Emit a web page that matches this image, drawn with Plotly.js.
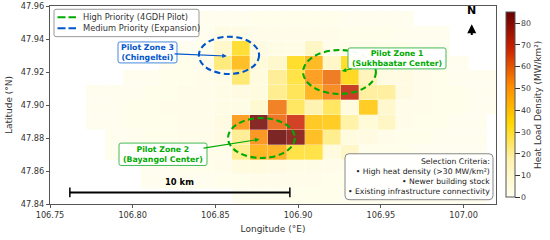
<!DOCTYPE html>
<html><head><meta charset="utf-8">
<script src="https://cdn.plot.ly/plotly-3.0.1.min.js"></script>
<style>html,body{margin:0;padding:0;background:#fff}</style></head>
<body><div id="chart" style="width:550px;height:240px"></div>
<script>
const lons=[106.7555,106.7665,106.7775,106.7885,106.7995,106.8105,106.8215,106.8325,106.8435,106.8545,106.8655,106.8765,106.8875,106.8985,106.9095,106.9205,106.9315,106.9425,106.9535,106.9645,106.9755,106.9865,106.9975,107.0085,107.0195];
const lats=[47.8445,47.8535,47.8625,47.8715,47.8805,47.8895,47.8985,47.9075,47.9165,47.9255,47.9345,47.9435,47.9525];
const _=null;
const row0=[_,_,_,_,_,_,_,_,_,_,1,1,1,2,2,2,1,1,1,1,1,1,1,1,_];
const row1=[_,_,_,_,_,1,1,1,1,2,2,3,3,3,3,2,2,2,1,1,1,1,1,1,_];
const row2=[_,_,_,_,_,1,1,2,2,3,6,6,5,4,4,3,3,2,2,1,1,1,1,1,_];
const row3=[_,_,_,1,1,1,2,2,3,3,22,44,45,30,30,6,13,2,2,2,1,1,1,1,_];
const row4=[_,_,_,1,1,2,2,3,3,5,21,52,85,81,42,22,6,5,3,2,2,1,1,1,_];
const row5=[_,_,1,1,2,2,2,3,3,5,50,83,58,68,39,38,19,8,14,3,2,2,1,1,_];
const row6=[_,_,1,1,2,2,3,3,3,4,4,10,56,27,18,27,6,38,11,3,3,2,2,1,1];
const row7=[_,_,1,1,1,2,2,3,3,4,5,6,22,28,44,54,70,20,20,5,3,2,2,1,1];
const row8=[_,_,_,_,1,1,2,2,3,4,25,6,21,30,50,57,35,17,5,5,3,2,1,1,1];
const row9=[_,_,_,_,_,_,1,2,3,24,42,8,12,33,43,13,33,3,4,3,2,1,1,_,_];
const row10=[_,_,_,_,_,_,1,1,2,12,32,5,4,4,14,3,3,3,2,2,1,1,_,_,_];
const row11=[_,_,_,_,_,_,_,_,1,4,4,3,3,3,3,3,2,2,2,1,1,1,_,_,_];
const row12=[_,_,_,_,_,_,_,_,1,1,1,2,2,2,2,2,1,1,1,1,_,_,_,_,_];
const heat=[row0,row1,row2,row3,row4,row5,row6,row7,row8,row9,row10,row11,row12];
const ticksLon=[106.75,106.80,106.85,106.90,106.95,107.00];
const ticksLonText=['106.75','106.80','106.85','106.90','106.95','107.00'];
const ticksLat=[47.84,47.86,47.88,47.90,47.92,47.94,47.96];
const ticksLatText=['47.84','47.86','47.88','47.90','47.92','47.94','47.96'];
const scaleLon=[106.762,106.895];
const scaleLat=[47.847,47.847];
const GREEN='#00AA00',BLUE='#0055CC',FONT='"DejaVu Sans",sans-serif',INK='#333';
const L=50,T=6,W=446,H=198.3;
const px=x=>(x-L)/W, py=y=>1-(y-T)/H;

const traces=[
 {type:'heatmap',x:lons,y:lats,z:heat,zmin:0,zmax:85,opacity:0.85,xgap:0.3,ygap:0.3,hoverongaps:false,
  colorscale:[[0,'#FFFFF0'],[0.2,'#FFF3B0'],[0.4,'#FFD700'],[0.6,'#FF8C00'],[0.8,'#CC2200'],[1,'#660000']],
  showlegend:false,
  colorbar:{thicknessmode:'pixels',thickness:8.6,lenmode:'pixels',len:184.6,x:1.0217,xanchor:'left',y:0.5008,yanchor:'middle',xpad:0,ypad:0,
    outlinecolor:'#555',outlinewidth:1,ticks:'outside',ticklen:4.5,tickcolor:'#333',tickwidth:1,tick0:0,dtick:10,
    tickfont:{family:FONT,size:7.8,color:INK},
    title:{text:'Heat Load Density (MW/km²)',side:'right',font:{family:FONT,size:8.9,color:INK}}}},
 {type:'scatter',mode:'lines+markers',x:scaleLon,y:scaleLat,showlegend:false,hoverinfo:'skip',
  line:{color:'#000',width:2},marker:{symbol:'line-ns',size:7,line:{color:'#000',width:1.5}}}
];
function ell(x0,x1,y0,y1,c){return {type:'circle',xref:'x',yref:'y',x0,x1,y0,y1,layer:'above',line:{color:c,width:2.1,dash:'6px,3.5px'}};}
function box(x0,y0,x1,y1,r,stroke,fill){
  const a=px(x0),b=px(x1),c=py(y0),d=py(y1),rx=r/W,ry=r/H;
  const path=`M ${a+rx} ${c} L ${b-rx} ${c} Q ${b} ${c} ${b} ${c-ry} L ${b} ${d+ry} Q ${b} ${d} ${b-rx} ${d} L ${a+rx} ${d} Q ${a} ${d} ${a} ${d+ry} L ${a} ${c-ry} Q ${a} ${c} ${a+rx} ${c} Z`;
  return {type:'path',xref:'paper',yref:'paper',path,layer:'above',fillcolor:fill,line:{color:stroke,width:1}};
}
function sample(x0,x1,y,c){return {type:'line',xref:'paper',yref:'paper',x0:px(x0),x1:px(x1),y0:py(y),y1:py(y),layer:'above',line:{color:c,width:2,dash:'8px,3px'}};}
function zone(text,x,y,tx,ty,c){return {text,x:tx,y:ty,xref:'x',yref:'y',axref:'x',ayref:'y',ax:x,ay:y,showarrow:true,arrowhead:2,arrowsize:0.8,arrowwidth:1.1,arrowcolor:c,
  font:{family:FONT,size:7.8,color:c,weight:700},borderpad:0,align:'center'};}
const layout={width:550,height:240,margin:{l:50,r:54,t:6,b:35.7},paper_bgcolor:'#fff',plot_bgcolor:'#fff',font:{family:FONT},showlegend:false,
 xaxis:{range:[106.75,107.0196],tickvals:ticksLon,ticktext:ticksLonText,ticks:'outside',ticklen:3,tickcolor:'#555',showgrid:false,zeroline:false,showline:true,linecolor:'#555',linewidth:1.2,mirror:true,
   tickfont:{family:FONT,size:8.2,color:INK},title:{text:'Longitude (°E)',font:{family:FONT,size:9,color:INK},standoff:6}},
 yaxis:{range:[47.84,47.96],tickvals:ticksLat,ticktext:ticksLatText,ticks:'outside',ticklen:3,tickcolor:'#555',showgrid:false,zeroline:false,showline:true,linecolor:'#555',linewidth:1.2,mirror:true,
   tickfont:{family:FONT,size:8.2,color:INK},title:{text:'Latitude (°N)',font:{family:FONT,size:9,color:INK},standoff:6}},
 shapes:[
  ell(106.903,106.947,47.9067,47.9333,GREEN),ell(106.8576,106.898,47.8679,47.8921,GREEN),ell(106.84,106.8764,47.9188,47.9414,BLUE),
  box(348,48,446,69,2,'#44BB55','rgba(255,255,255,0.95)'),
  box(119,143.3,207,165.7,2,'#44BB55','rgba(255,255,255,0.95)'),
  box(118,42,177,63,2,'#4488DD','rgba(255,255,255,0.95)'),
  box(54,9.3,199,36.7,2,'#999','rgba(255,255,255,0.92)'),
  sample(57.5,76,17.3,GREEN),sample(57.5,76,28.3,BLUE),
  box(345,154,493,200,4,'#888','rgba(255,255,255,0.92)')
 ],
 annotations:[
  zone('Pilot Zone 1<br>(Sukhbaatar Center)',106.9598,47.928,106.9264,47.9206,GREEN),
  zone('Pilot Zone 2<br>(Bayangol Center)',106.8183,47.87,106.8766,47.8792,GREEN),
  zone('Pilot Zone 3<br>(Chingeltei)',106.809,47.9317,106.8568,47.9297,BLUE),
  {text:'High Priority (4GDH Pilot)<br>Medium Priority (Expansion)',x:px(82),y:py(23),xref:'paper',yref:'paper',xanchor:'left',yanchor:'middle',showarrow:false,align:'left',borderpad:0,font:{family:FONT,size:8.3,color:INK}},
  {text:'10 km',x:106.8285,y:47.8535,xref:'x',yref:'y',showarrow:false,font:{family:FONT,size:8.4,color:'#000',weight:700}},
  {text:'N',x:107.0,y:47.957,xref:'x',yref:'y',showarrow:false,font:{family:FONT,size:11,color:'#000',weight:700}},
  {text:'',x:107.0,y:47.949,xref:'x',yref:'y',axref:'x',ayref:'y',ax:107.0,ay:47.9415,showarrow:true,arrowhead:2,arrowsize:0.9,arrowwidth:2,arrowcolor:'#000'},
  {text:'Selection Criteria:<br>• High heat density (>30 MW/km²)<br>• Newer building stock<br>• Existing infrastructure connectivity',x:px(491),y:py(177),xref:'paper',yref:'paper',xanchor:'right',yanchor:'middle',showarrow:false,align:'right',borderpad:0,
   font:{family:FONT,size:7.7,color:'#222'}}
 ]
};
layout.annotations[5].x=106.75+(471.7-50)/1654;
layout.annotations[6].x=layout.annotations[5].x;layout.annotations[6].ax=layout.annotations[5].x;
Plotly.newPlot('chart',traces,layout,{displayModeBar:false,responsive:false});
</script></body></html>
